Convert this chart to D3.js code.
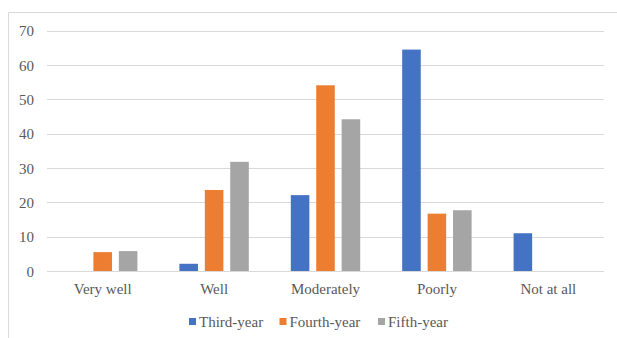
<!DOCTYPE html>
<html>
<head>
<meta charset="utf-8">
<script src="https://cdn.jsdelivr.net/npm/d3@7"></script>
<style>
  html, body { margin: 0; padding: 0; background: #fff; }
  svg { display: block; }
  svg text { font-family: "Liberation Serif", "Times New Roman", serif; fill: #595959; }
</style>
</head>
<body>
<svg id="chart" width="617" height="338"></svg>
<script>
const categories = ["Very well", "Well", "Moderately", "Poorly", "Not at all"];
const seriesNames = ["Third-year", "Fourth-year", "Fifth-year"];
const thirdYear = [0, 2.1, 22.1, 64.5, 11.0];
const fourthYear = [5.5, 23.6, 54.1, 16.7, 0];
const fifthYear = [5.8, 31.8, 44.2, 17.7, 0];
const yTicks = [0, 10, 20, 30, 40, 50, 60, 70];
const colors = ["#4472C4", "#ED7D31", "#A5A5A5"];

const series = [thirdYear, fourthYear, fifthYear];
const FONT = '"Liberation Serif", "Times New Roman", serif';

const svg = d3.select("#chart");
const W = 617, H = 338;
const plot = { left: 47, right: 604, top: 30.7, bottom: 271 };

// chart frame
svg.append("path")
  .attr("d", `M8.5,${H} V12.5 H${W}`)
  .attr("fill", "none")
  .attr("stroke", "#D9D9D9")
  .attr("stroke-width", 1);

const x = d3.scaleBand()
  .domain(categories)
  .range([plot.left, plot.right])
  .paddingInner(0)
  .paddingOuter(0);

const xInner = d3.scaleBand()
  .domain(seriesNames)
  .range([21, x.bandwidth() - 21])
  .paddingInner(0.27)
  .paddingOuter(0);

const y = d3.scaleLinear()
  .domain([0, 70])
  .range([plot.bottom, plot.top]);

// gridlines
svg.append("g")
  .selectAll("line")
  .data(yTicks)
  .join("line")
  .attr("x1", plot.left)
  .attr("x2", plot.right)
  .attr("y1", d => Math.round(y(d)) + 0.5)
  .attr("y2", d => Math.round(y(d)) + 0.5)
  .attr("stroke", "#D9D9D9")
  .attr("stroke-width", 1);

// y axis labels
const yAxis = d3.axisLeft(y).tickValues(yTicks).tickSize(0).tickPadding(0);
const gy = svg.append("g")
  .attr("transform", `translate(34,0)`)
  .call(yAxis)
  .attr("font-family", null)
  .attr("font-size", null);
gy.select(".domain").remove();
gy.selectAll("text")
  .style("font-family", FONT)
  .style("font-size", "15px")
  .attr("fill", "#595959")
  .attr("dy", "0.35em");

// bars
const groups = svg.append("g")
  .selectAll("g")
  .data(categories)
  .join("g")
  .attr("transform", d => `translate(${x(d)},0)`);

groups.selectAll("rect")
  .data((c, i) => series.map((s, k) => ({ name: seriesNames[k], value: s[i], k })))
  .join("rect")
  .filter(d => d.value > 0)
  .attr("x", d => xInner(d.name))
  .attr("width", xInner.bandwidth())
  .attr("y", d => y(d.value))
  .attr("height", d => y(0) - y(d.value))
  .attr("fill", d => colors[d.k]);

// x axis labels
const xAxis = d3.axisBottom(x).tickSize(0).tickPadding(0);
const gx = svg.append("g")
  .attr("transform", `translate(0,${plot.bottom})`)
  .call(xAxis)
  .attr("font-family", null)
  .attr("font-size", null);
gx.select(".domain").remove();
gx.selectAll("text")
  .style("font-family", FONT)
  .style("font-size", "15px")
  .attr("fill", "#595959")
  .attr("dy", "1.55em");

// legend
const legendX = [189, 279.5, 378];
const legend = svg.append("g").attr("transform", "translate(0,322)");
const items = legend.selectAll("g")
  .data(seriesNames)
  .join("g")
  .attr("transform", (d, i) => `translate(${legendX[i]},0)`);
items.append("rect")
  .attr("x", 0).attr("y", -4)
  .attr("width", 7).attr("height", 7)
  .attr("fill", (d, i) => colors[i]);
items.append("text")
  .attr("x", 10)
  .attr("dy", "0.35em")
  .style("font-family", FONT)
  .style("font-size", "15px")
  .attr("fill", "#595959")
  .text(d => d);
</script>
</body>
</html>
